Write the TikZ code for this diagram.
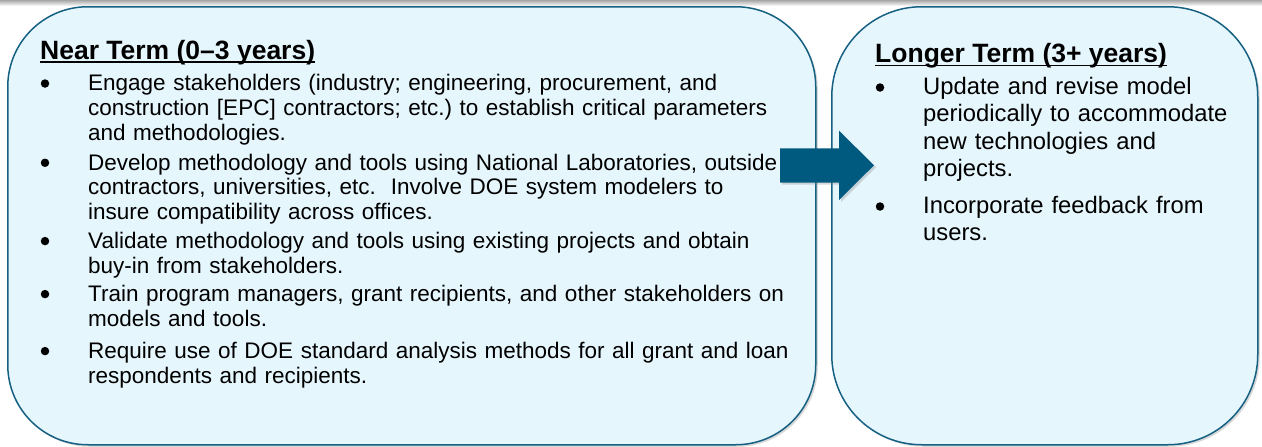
\documentclass[tikz,border=0pt]{standalone}
\usepackage{fontspec}
\setmainfont{Liberation Sans}
\usetikzlibrary{shadows}
\definecolor{boxfill}{RGB}{230,246,253}
\definecolor{boxline}{RGB}{22,96,130}
\definecolor{arrowblue}{RGB}{0,90,128}
\begin{document}
\begin{tikzpicture}[x=1pt,y=-1pt,
  panel/.style={draw=boxline, line width=1.5pt, fill=boxfill, rectangle,
    drop shadow={opacity=0.3, shadow xshift=2pt, shadow yshift=-2pt},
    anchor=north west, inner sep=0},
  head/.style={anchor=base west, inner sep=0, font=\fontsize{26.5}{30}\selectfont\bfseries},
  bodyL/.style={anchor=base west, inner sep=0, align=left, text width=740pt,
    font=\fontsize{22.5}{24.8}\selectfont},
  bodyR/.style={anchor=base west, inner sep=0, align=left, text width=330pt,
    font=\fontsize{23.8}{27.5}\selectfont},
  dot/.style={circle, fill=black, inner sep=0, minimum size=8.5pt},
  uline/.style={line width=1.8pt}
]
\useasboundingbox (0,0) rectangle (1262,447);
\shade[top color=black!35, bottom color=white] (0,0) rectangle (1262,6);

% panels
\node[panel, rounded corners=80pt, minimum width=808pt, minimum height=438pt] (near) at (7,6) {};
\node[panel, rounded corners=90pt, minimum width=426pt, minimum height=438pt] (long) at (831,6) {};

% arrow
\fill[arrowblue, drop shadow={opacity=0.3, shadow xshift=2pt, shadow yshift=-2pt}]
  (780,148.3) -- (839,148.3) -- (839,130.7) -- (874,165.3) -- (839,200) -- (839,182.7) -- (780,182.7) -- cycle;

% left panel text
\node[head] (nh) at (40,59) {Near Term (0–3 years)};
\draw[uline] ([yshift=-3pt]nh.base west) -- ([yshift=-3pt]nh.base east);

\node[dot] (b1) at (45,83.5) {};
\node[bodyL] (t1) at (88,90.7) {Engage stakeholders (industry; engineering, procurement, and\\construction [EPC] contractors; etc.)\ to establish critical parameters\\and methodologies.};
\node[dot] (b2) at (45,162.8) {};
\node[bodyL] (t2) at (88,170) {Develop methodology and tools using National Laboratories, outside\\contractors, universities, etc.\ \ Involve DOE system modelers to\\insure compatibility across offices.};
\node[dot] (b3) at (45,241.1) {};
\node[bodyL] (t3) at (88,248.3) {Validate methodology and tools using existing projects and obtain\\buy-in from stakeholders.};
\node[dot] (b4) at (45,294.1) {};
\node[bodyL] (t4) at (88,301.3) {Train program managers, grant recipients, and other stakeholders on\\models and tools.};
\node[dot] (b5) at (45,351.1) {};
\node[bodyL] (t5) at (88,358.3) {Require use of DOE standard analysis methods for all grant and loan\\respondents and recipients.};

% right panel text
\node[head] (lh) at (875,62) {Longer Term (3+ years)};
\draw[uline] ([yshift=-3.5pt]lh.base west) -- ([yshift=-3.5pt]lh.base east);

\node[dot] (r1) at (880,87.5) {};
\node[bodyR] (s1) at (923,94) {Update and revise model\\periodically to accommodate\\new technologies and\\projects.};
\node[dot] (r2) at (880,206.5) {};
\node[bodyR] (s2) at (923,213) {Incorporate feedback from\\users.};
\end{tikzpicture}
\end{document}
